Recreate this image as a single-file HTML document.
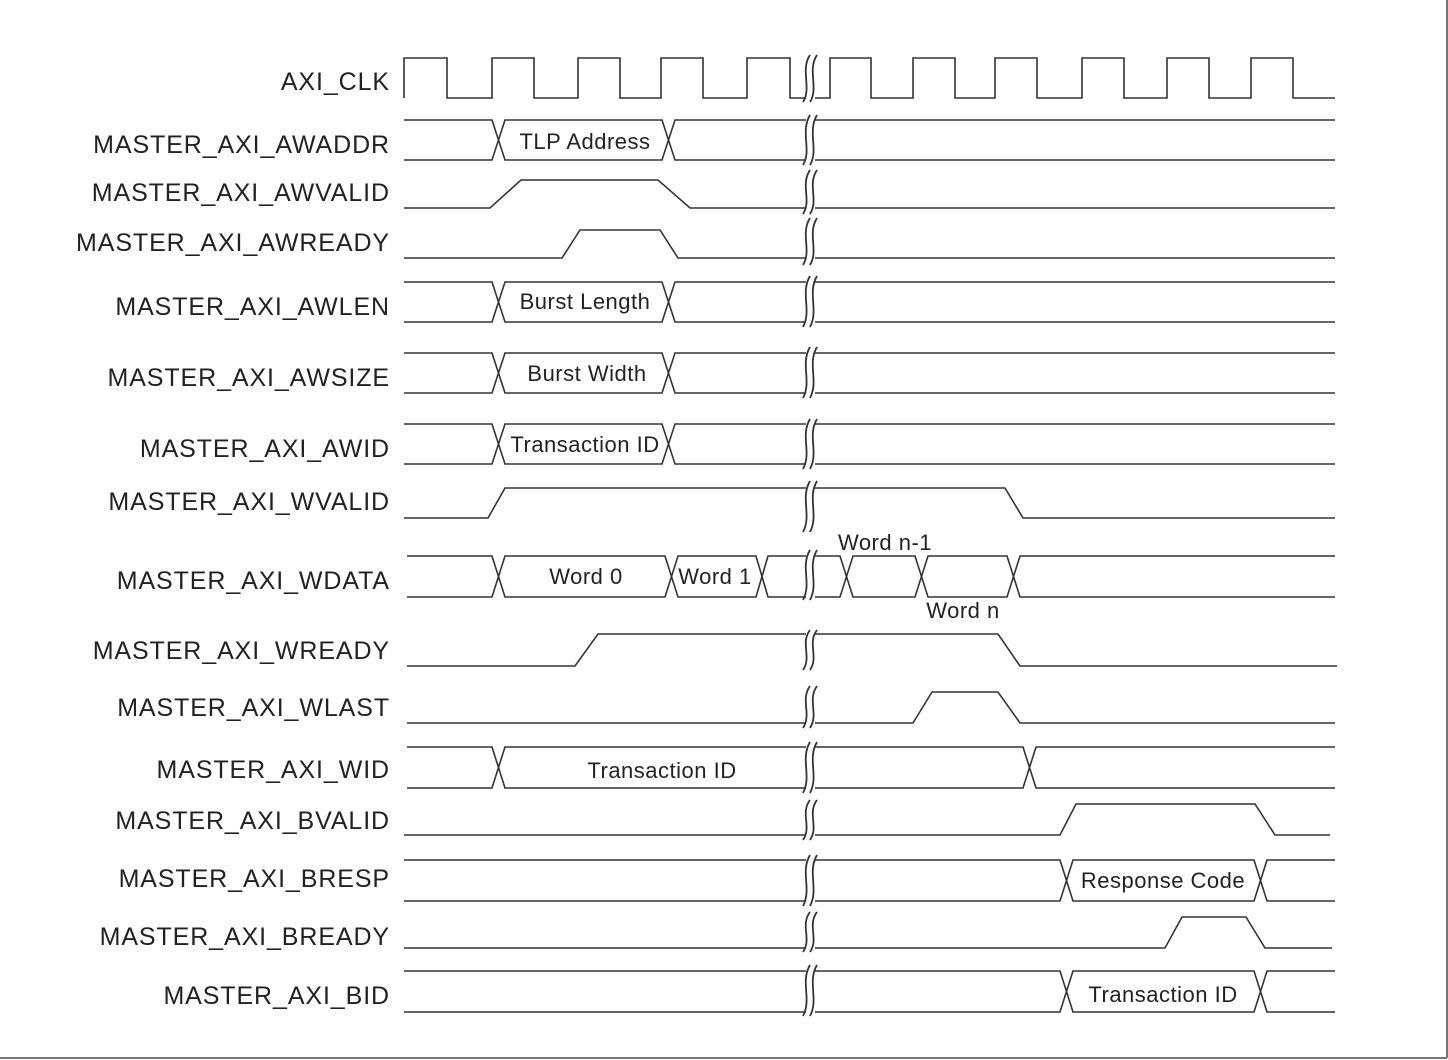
<!DOCTYPE html>
<html><head><meta charset="utf-8"><style>
html,body{margin:0;padding:0;background:#fff;}
svg{display:block;}
text{font-family:"Liberation Sans",Arial,sans-serif;fill:#222;}
</style></head><body>
<svg width="1448" height="1060" viewBox="0 0 1448 1060" xmlns="http://www.w3.org/2000/svg">
<rect x="0" y="0" width="1448" height="1060" fill="#fff"/>
<line x1="0" y1="1058" x2="1447" y2="1058" stroke="#777" stroke-width="2"/>
<line x1="1447" y1="0" x2="1447" y2="1058" stroke="#777" stroke-width="2"/>

<g font-size="25" text-anchor="end" letter-spacing="0.9">
<text x="390" y="90">AXI_CLK</text>
<text x="390" y="153">MASTER_AXI_AWADDR</text>
<text x="390" y="201">MASTER_AXI_AWVALID</text>
<text x="390" y="251">MASTER_AXI_AWREADY</text>
<text x="390" y="315">MASTER_AXI_AWLEN</text>
<text x="390" y="386">MASTER_AXI_AWSIZE</text>
<text x="390" y="457">MASTER_AXI_AWID</text>
<text x="390" y="510">MASTER_AXI_WVALID</text>
<text x="390" y="589">MASTER_AXI_WDATA</text>
<text x="390" y="659">MASTER_AXI_WREADY</text>
<text x="390" y="716">MASTER_AXI_WLAST</text>
<text x="390" y="778">MASTER_AXI_WID</text>
<text x="390" y="829">MASTER_AXI_BVALID</text>
<text x="390" y="887">MASTER_AXI_BRESP</text>
<text x="390" y="945">MASTER_AXI_BREADY</text>
<text x="390" y="1004">MASTER_AXI_BID</text>
</g>

<g fill="none" stroke="#333" stroke-width="1.6">
<path d="M404 98 V58 H447 V98 H492 V58 H534 V98 H578 V58 H620 V98 H661 V58 H703 V98 H747 V58 H790 V98 H806"/>
<path d="M815 98 H830 V58 H871 V98 H913 V58 H955 V98 H995 V58 H1037 V98 H1082 V58 H1124 V98 H1167 V58 H1209 V98 H1251 V58 H1293 V98 H1335"/>
<path d="M404 120 H492 L505 160 H662 L675 120 H1335"/>
<path d="M404 160 H492 L505 120 H662 L675 160 H1335"/>
<path d="M404 208 H490 L521 180 H658 L690 208 H1335"/>
<path d="M404 258 H562 L580 230 H660 L678 258 H1335"/>
<path d="M404 282 H492 L505 322 H662 L675 282 H1335"/>
<path d="M404 322 H492 L505 282 H662 L675 322 H1335"/>
<path d="M404 353 H492 L505 393 H662 L675 353 H1335"/>
<path d="M404 393 H492 L505 353 H662 L675 393 H1335"/>
<path d="M404 424 H492 L505 464 H662 L675 424 H1335"/>
<path d="M404 464 H492 L505 424 H662 L675 464 H1335"/>
<path d="M404 518 H488 L505 488 H1005 L1023 518 H1335"/>
<path d="M407 556 H492 L505 597 H665 L678 556 H756 L768 597 H840 L853 556 H915 L928 597 H1007 L1020 556 H1335"/>
<path d="M407 597 H492 L505 556 H665 L678 597 H756 L768 556 H840 L853 597 H915 L928 556 H1007 L1020 597 H1335"/>
<path d="M407 666 H575 L598 634 H998 L1020 666 H1337"/>
<path d="M407 723 H913 L932 692 H998 L1020 723 H1335"/>
<path d="M407 747 H492 L505 788 H1023 L1036 747 H1335"/>
<path d="M407 788 H492 L505 747 H1023 L1036 788 H1335"/>
<path d="M404 835 H1060 L1076 804 H1255 L1275 835 H1330"/>
<path d="M404 860 H1060 L1073 901 H1254 L1267 860 H1335"/>
<path d="M404 901 H1060 L1073 860 H1254 L1267 901 H1335"/>
<path d="M404 948 H1165 L1182 917 H1246 L1265 948 H1332"/>
<path d="M404 971 H1060 L1073 1012 H1254 L1267 971 H1335"/>
<path d="M404 1012 H1060 L1073 971 H1254 L1267 1012 H1335"/>
</g>

<g fill="#fff" stroke="none">
<rect x="806" y="52" width="9" height="970"/>
</g>
<g fill="none" stroke="#333" stroke-width="1.8">
<path d="M810 55 C800 70 812 88 803 102 M817 55 C807 70 819 88 810 102"/>
<path d="M810 115 C800 132 812 150 803 165 M817 115 C807 132 819 150 810 165"/>
<path d="M810 170 C800 185 812 200 803 214 M817 170 C807 185 819 200 810 214"/>
<path d="M810 218 C800 234 812 250 803 265 M817 218 C807 234 819 250 810 265"/>
<path d="M810 276 C800 293 812 310 803 327 M817 276 C807 293 819 310 810 327"/>
<path d="M810 347 C800 364 812 381 803 398 M817 347 C807 364 819 381 810 398"/>
<path d="M810 419 C800 436 812 452 803 469 M817 419 C807 436 819 452 810 469"/>
<path d="M810 481 C800 498 812 515 803 532 M817 481 C807 498 819 515 810 532"/>
<path d="M810 550 C800 567 812 583 803 600 M817 550 C807 567 819 583 810 600"/>
<path d="M810 630 C800 643 812 657 803 670 M817 630 C807 643 819 657 810 670"/>
<path d="M810 686 C800 700 812 714 803 728 M817 686 C807 700 819 714 810 728"/>
<path d="M810 742 C800 759 812 776 803 793 M817 742 C807 759 819 776 810 793"/>
<path d="M810 800 C800 813 812 827 803 840 M817 800 C807 813 819 827 810 840"/>
<path d="M810 855 C800 872 812 889 803 906 M817 855 C807 872 819 889 810 906"/>
<path d="M810 912 C800 925 812 939 803 952 M817 912 C807 925 819 939 810 952"/>
<path d="M810 965 C800 982 812 999 803 1016 M817 965 C807 982 819 999 810 1016"/>
</g>

<g font-size="22" text-anchor="middle" letter-spacing="0.5">
<text x="585" y="149">TLP Address</text>
<text x="585" y="309">Burst Length</text>
<text x="587" y="381">Burst Width</text>
<text x="585" y="452">Transaction ID</text>
<text x="586" y="584">Word 0</text>
<text x="715" y="584">Word 1</text>
<text x="885" y="550">Word n-1</text>
<text x="963" y="618">Word n</text>
<text x="662" y="778">Transaction ID</text>
<text x="1163" y="888">Response Code</text>
<text x="1163" y="1002">Transaction ID</text>
</g>
</svg>
</body></html>
